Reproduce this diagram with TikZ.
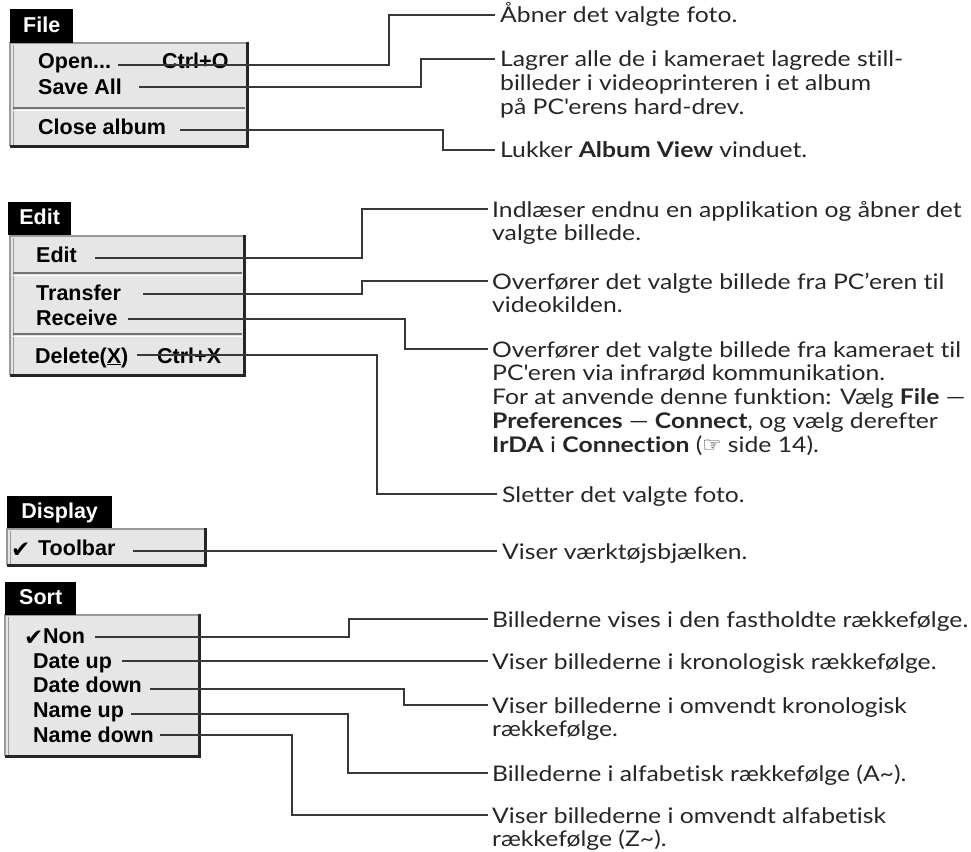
\documentclass[tikz,border=0pt]{standalone}
\usepackage{fontspec}
\setmainfont{Lato}[FakeStretch=1.15, Ligatures=NoCommon]
\newfontfamily\menufont{Liberation Sans}
\newfontfamily\symfont{DejaVu Sans}
\definecolor{menugray}{HTML}{E6E6E6}
\definecolor{edgegray}{HTML}{9A9A9A}
\definecolor{conngray}{HTML}{383838}
\newcommand\dtxt[1]{\begin{tabular}[t]{@{}l@{}}#1\end{tabular}}
\tikzset{
  desc/.style={anchor=base west, inner sep=0pt, font=\fontsize{21.5}{23.75}\selectfont, text=black!85},
  item/.style={anchor=base west, inner sep=0pt, font=\menufont\bfseries\fontsize{21.5}{24}\selectfont},
  chk/.style={anchor=base west, inner sep=0pt, font=\symfont\bfseries\fontsize{23}{24}\selectfont},
  titlebox/.style={anchor=north west, fill=black, text=white, inner sep=0pt, text height=15pt, text depth=3pt, font=\menufont\bfseries\fontsize{21.5}{24}\selectfont},
  menufill/.style={fill=menugray},
  menuedge/.style={draw=edgegray, line width=1.2pt},
  menushadow/.style={draw=black!85, line width=3pt},
  sepdark/.style={draw=black!55, line width=1.5pt},
  seplight/.style={draw=white, line width=1.2pt},
  conn/.style={draw=conngray, line width=1.4pt},
}
\begin{document}
\begin{tikzpicture}[x=1pt,y=-1pt]
\useasboundingbox (0,0) rectangle (971,851);

% ---------------- File menu
\fill[menufill] (10,43) rectangle (247,146);
\draw[menuedge] (10,146) -- (10,43) -- (247,43);
\draw[menuedge, line width=0.8pt] (13,146) -- (13,45);
\draw[sepdark] (13,108) -- (245,108);
\draw[seplight] (13,110.5) -- (245,110.5);
\draw[menushadow] (247,42) -- (247,146) -- (10,146);
\node[titlebox, minimum width=63, minimum height=34] (tfile) at (10,9) {File};

\node[item] (open) at (38,68) {Open...};
\node[item] (ctrlo) at (162,68) {Ctrl+O};
\node[item] (save) at (38,94) {Save All};
\node[item] (close) at (38,134) {Close album};

\node[desc] (dopen) at (500,22.5) {Åbner det valgte foto.};
\node[desc] (dsave) at (500,66.5) {\dtxt{Lagrer alle de i kameraet lagrede still-\\billeder i videoprinteren i et album\\på PC\textquotesingle erens hard-drev.}};
\node[desc] (dclose) at (500,157.5) {Lukker \textbf{Album View} vinduet.};

\draw[conn] ([xshift=80pt,yshift=3pt]open.base west) -- ++(271,0) |- ([xshift=-5pt,yshift=7.5pt]dopen.base west);
\draw[conn] ([xshift=101pt,yshift=7pt]save.base west) -- ++(282,0) |- ([xshift=-5pt,yshift=7.5pt]dsave.base west);
\draw[conn] ([xshift=142pt,yshift=4pt]close.base west) -- ++(263,0) |- ([xshift=-5pt,yshift=7.5pt]dclose.base west);

% ---------------- Edit menu
\fill[menufill] (10,236) rectangle (244,375);
\draw[menuedge] (10,375) -- (10,236) -- (244,236);
\draw[menuedge, line width=0.8pt] (13,375) -- (13,238);
\draw[sepdark] (13,273) -- (242,273);
\draw[seplight] (13,275.5) -- (242,275.5);
\draw[sepdark] (13,334) -- (242,334);
\draw[seplight] (13,336.5) -- (242,336.5);
\draw[menushadow] (244,235) -- (244,375) -- (10,375);
\node[titlebox, minimum width=63, minimum height=33] (tedit) at (8,202) {Edit};

\node[item] (editi) at (36,262) {Edit};
\node[item] (transfer) at (36,300) {Transfer};
\node[item] (receive) at (36,325) {Receive};
\node[item] (delete) at (35,363) {Delete(\underline{X})};
\node[item] (ctrlx) at (157,363) {Ctrl+X};

\node[desc] (dedit) at (492,217) {\dtxt{Indlæser endnu en applikation og åbner det\\valgte billede.}};
\node[desc] (dtrans) at (492,289) {\dtxt{Overfører det valgte billede fra PC’eren til\\videokilden.}};
\node[desc] (drecv) at (492,357) {\dtxt{Overfører det valgte billede fra kameraet til\\PC\textquotesingle eren via infrarød kommunikation.\\For at anvende denne funktion: Vælg \textbf{File} —\\\textbf{Preferences} — \textbf{Connect}, og vælg derefter\\\textbf{IrDA} i \textbf{Connection} ({\symfont ☞} side 14).}};
\node[desc] (ddel) at (502,502) {Sletter det valgte foto.};

\draw[conn] ([xshift=59pt,yshift=4pt]editi.base west) -- ++(267,0) |- ([xshift=-4pt,yshift=8pt]dedit.base west);
\draw[conn] ([xshift=107pt,yshift=6pt]transfer.base west) -- ++(219,0) |- ([xshift=-4pt,yshift=8pt]dtrans.base west);
\draw[conn] ([xshift=92pt,yshift=6pt]receive.base west) -- ++(277,0) |- ([xshift=-4pt,yshift=8pt]drecv.base west);
\draw[conn] ([xshift=102pt,yshift=8pt]delete.base west) -- ++(240,0) |- ([xshift=-5pt,yshift=8pt]ddel.base west);

% ---------------- Display menu
\fill[menufill] (7,529) rectangle (205,565);
\draw[menuedge] (7,565) -- (7,529) -- (205,529);
\draw[menuedge, line width=0.8pt] (10,565) -- (10,531);
\draw[menushadow] (205,528) -- (205,565) -- (7,565);
\node[titlebox, minimum width=105, minimum height=32] (tdisp) at (7,496) {Display};

\node[chk] (chk1) at (11,557) {✔};
\node[item] (toolbar) at (38,555) {Toolbar};
\node[desc] (dtool) at (502,559) {Viser værktøjsbjælken.};
\draw[conn] ([xshift=95pt,yshift=4pt]toolbar.base west) -- ([xshift=-5pt,yshift=8pt]dtool.base west);

% ---------------- Sort menu
\fill[menufill] (5,615) rectangle (199,756);
\draw[menuedge] (5,756) -- (5,615) -- (199,615);
\draw[menuedge, line width=0.8pt] (8,756) -- (8,617);
\draw[menushadow] (199,614) -- (199,756) -- (5,756);
\node[titlebox, minimum width=71, minimum height=33] (tsort) at (5,582) {Sort};

\node[chk] (chk2) at (24,645) {✔};
\node[item] (non) at (43,643) {Non};
\node[item] (dateup) at (33,668) {Date up};
\node[item] (datedown) at (33,692) {Date down};
\node[item] (nameup) at (33,717) {Name up};
\node[item] (namedown) at (33,742) {Name down};

\node[desc] (dnon) at (492,627) {Billederne vises i den fastholdte rækkefølge.};
\node[desc] (ddu) at (492,669) {Viser billederne i kronologisk rækkefølge.};
\node[desc] (ddd) at (492,713) {\dtxt{Viser billederne i omvendt kronologisk\\rækkefølge.}};
\node[desc] (dnu) at (492,781) {Billederne i alfabetisk rækkefølge (A\textasciitilde).};
\node[desc] (dnd) at (492,823) {\dtxt{Viser billederne i omvendt alfabetisk\\rækkefølge (Z\textasciitilde).}};

\draw[conn] ([xshift=52pt,yshift=6pt]non.base west) -- ++(254,0) |- ([xshift=-4pt,yshift=8pt]dnon.base west);
\draw[conn] ([xshift=89pt,yshift=7pt]dateup.base west) -- ([xshift=-4pt,yshift=8pt]ddu.base west);
\draw[conn] ([xshift=117pt,yshift=3pt]datedown.base west) -- ++(254,0) |- ([xshift=-4pt,yshift=8pt]ddd.base west);
\draw[conn] ([xshift=98pt,yshift=3pt]nameup.base west) -- ++(217,0) |- ([xshift=-4pt,yshift=8pt]dnu.base west);
\draw[conn] ([xshift=127pt,yshift=7pt]namedown.base west) -- ++(132,0) |- ([xshift=-4pt,yshift=8pt]dnd.base west);
\end{tikzpicture}
\end{document}
